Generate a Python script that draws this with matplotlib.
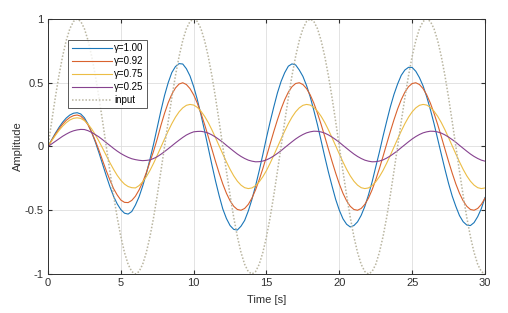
import numpy as np
import matplotlib
matplotlib.use('Agg')
import matplotlib.pyplot as plt

# time axis (s), sampled every 0.25 s
t = np.arange(0, 30.01, 0.25)

# values
g100 = [0.0, 0.052, 0.103, 0.149, 0.19, 0.223, 0.247, 0.261,
        0.265, 0.255, 0.225, 0.175, 0.11, 0.035, -0.05, -0.14,
        -0.23, -0.315, -0.39, -0.45, -0.495, -0.523, -0.53, -0.51,
        -0.46, -0.395, -0.31, -0.213, -0.10, 0.02, 0.15, 0.28,
        0.40, 0.50, 0.58, 0.627, 0.65, 0.647, 0.61, 0.553,
        0.47, 0.368, 0.25, 0.122, -0.01, -0.143, -0.27, -0.386,
        -0.49, -0.565, -0.62, -0.65, -0.655, -0.625, -0.58, -0.506,
        -0.415, -0.308, -0.19, -0.062, 0.07, 0.194, 0.31, 0.42,
        0.51, 0.579, 0.63, 0.648, 0.64, 0.60, 0.55, 0.478,
        0.39, 0.283, 0.17, 0.045, -0.08, -0.20, -0.31, -0.415,
        -0.50, -0.567, -0.61, -0.631, -0.62, -0.591, -0.54, -0.47,
        -0.38, -0.278, -0.16, -0.044, 0.08, 0.197, 0.31, 0.408,
        0.49, 0.558, 0.60, 0.621, 0.62, 0.59, 0.54, 0.475,
        0.39, 0.29, 0.18, 0.06, -0.06, -0.178, -0.29, -0.389,
        -0.47, -0.542, -0.59, -0.616, -0.62, -0.597, -0.55, -0.487,
        -0.40]

# start-up part (0..9 s) and one settled period (8 s) of gamma=0.92
g092_start = [0.0, 0.048, 0.095, 0.137, 0.175, 0.205, 0.228, 0.242,
              0.247, 0.238, 0.21, 0.169, 0.11, 0.044, -0.03, -0.111,
              -0.19, -0.263, -0.33, -0.38, -0.42, -0.438, -0.44, -0.423,
              -0.39, -0.341, -0.28, -0.205, -0.12, -0.036, 0.06, 0.165,
              0.26, 0.343, 0.41, 0.459, 0.49]
g092_period = [0.294, 0.367, 0.426, 0.469, 0.494, 0.500, 0.486, 0.454,
               0.405, 0.340, 0.261, 0.173, 0.078, -0.020, -0.117, -0.209,
               -0.294, -0.367, -0.426, -0.469, -0.494, -0.500, -0.486, -0.454,
               -0.405, -0.340, -0.261, -0.173, -0.078, 0.020, 0.117, 0.209]

# gamma=0.75: start-up (0..5.75 s) and settled period
g075_start = [0.0, 0.044, 0.086, 0.125, 0.159, 0.187, 0.208, 0.221,
              0.225, 0.220, 0.203, 0.175, 0.137, 0.092, 0.041, -0.014,
              -0.071, -0.127, -0.179, -0.226, -0.265, -0.295, -0.314, -0.323]
g075_period = [0.059, 0.121, 0.179, 0.230, 0.272, 0.303, 0.323, 0.330,
               0.325, 0.307, 0.277, 0.237, 0.188, 0.131, 0.069, 0.005,
               -0.059, -0.121, -0.179, -0.230, -0.272, -0.303, -0.323, -0.330,
               -0.325, -0.307, -0.277, -0.237, -0.188, -0.131, -0.069, -0.005]

# gamma=0.25: start-up (0..10.25 s) and settled period
g025_start = [0.0, 0.02, 0.04, 0.06, 0.08, 0.097, 0.112, 0.123,
              0.13, 0.134, 0.133, 0.124, 0.11, 0.093, 0.075, 0.053,
              0.03, 0.008, -0.015, -0.036, -0.055, -0.071, -0.085, -0.096,
              -0.103, -0.108, -0.111, -0.109, -0.105, -0.094, -0.08, -0.061,
              -0.04, -0.018, 0.005, 0.028, 0.05, 0.071, 0.09, 0.104,
              0.115, 0.118]
g025_period = [-0.033, -0.009, 0.014, 0.037, 0.059, 0.078, 0.094, 0.107,
               0.115, 0.120, 0.119, 0.114, 0.105, 0.091, 0.074, 0.054,
               0.033, 0.009, -0.014, -0.037, -0.059, -0.078, -0.094, -0.107,
               -0.115, -0.120, -0.119, -0.114, -0.105, -0.091, -0.074, -0.054]

# one period of the input (8 s)
inp_period = [0.0, 0.195, 0.383, 0.556, 0.707, 0.831, 0.924, 0.981,
              1.0, 0.981, 0.924, 0.831, 0.707, 0.556, 0.383, 0.195,
              0.0, -0.195, -0.383, -0.556, -0.707, -0.831, -0.924, -0.981,
              -1.0, -0.981, -0.924, -0.831, -0.707, -0.556, -0.383, -0.195]

n = len(t)
g092 = g092_start + (g092_period * 4)[5:5 + n - len(g092_start)]
g075 = g075_start + (g075_period * 5)[24:24 + n - len(g075_start)]
g025 = g025_start + (g025_period * 4)[10:10 + n - len(g025_start)]
inp = (inp_period * 4)[:n]

labels = ['γ=1.00', 'γ=0.92', 'γ=0.75', 'γ=0.25', 'input']
colors = ['#1a76b8', '#d9622e', '#ecbd45', '#86428f', '#b9b5a0']

plt.rcParams['font.family'] = ['Liberation Sans', 'DejaVu Sans']

fig = plt.figure(figsize=(5.08, 3.13), dpi=100)
ax = fig.add_axes([0.0945, 0.1246, 0.8602, 0.8147])

for y, lab, c in zip([g100, g092, g075, g025], labels[:4], colors[:4]):
    ax.plot(t, y, color=c, lw=0.8, label=lab, solid_joinstyle='round')
ax.plot(t, inp, color=colors[4], lw=1.1, ls=(0, (1, 1.2)), label=labels[4])

ax.set_xlim(0, 30)
ax.set_ylim(-1, 1)
ax.set_xticks([0, 5, 10, 15, 20, 25, 30])
ax.set_yticks([-1, -0.5, 0, 0.5, 1])
ax.set_yticklabels(['-1', '-0.5', '0', '0.5', '1'])
ax.grid(True, color='#dedede', lw=0.6)
ax.set_axisbelow(True)
ax.tick_params(direction='in', length=3, labelsize=8, colors='#303030',
               top=True, right=True, pad=3)
for s in ax.spines.values():
    s.set_color('#303030')
    s.set_linewidth(0.7)

ax.set_xlabel('Time [s]', fontsize=8, color='#303030', labelpad=5)
ax.set_ylabel('Amplitude', fontsize=8, color='#303030', labelpad=1)

leg = ax.legend(loc='upper left', bbox_to_anchor=(0.046, 0.918), fontsize=7,
                frameon=True, fancybox=False, edgecolor='#303030',
                handlelength=4.2, handletextpad=0.2, borderpad=0.35,
                labelspacing=0.3, borderaxespad=0)
leg.get_frame().set_linewidth(0.7)

plt.savefig('out.png', dpi=100)
